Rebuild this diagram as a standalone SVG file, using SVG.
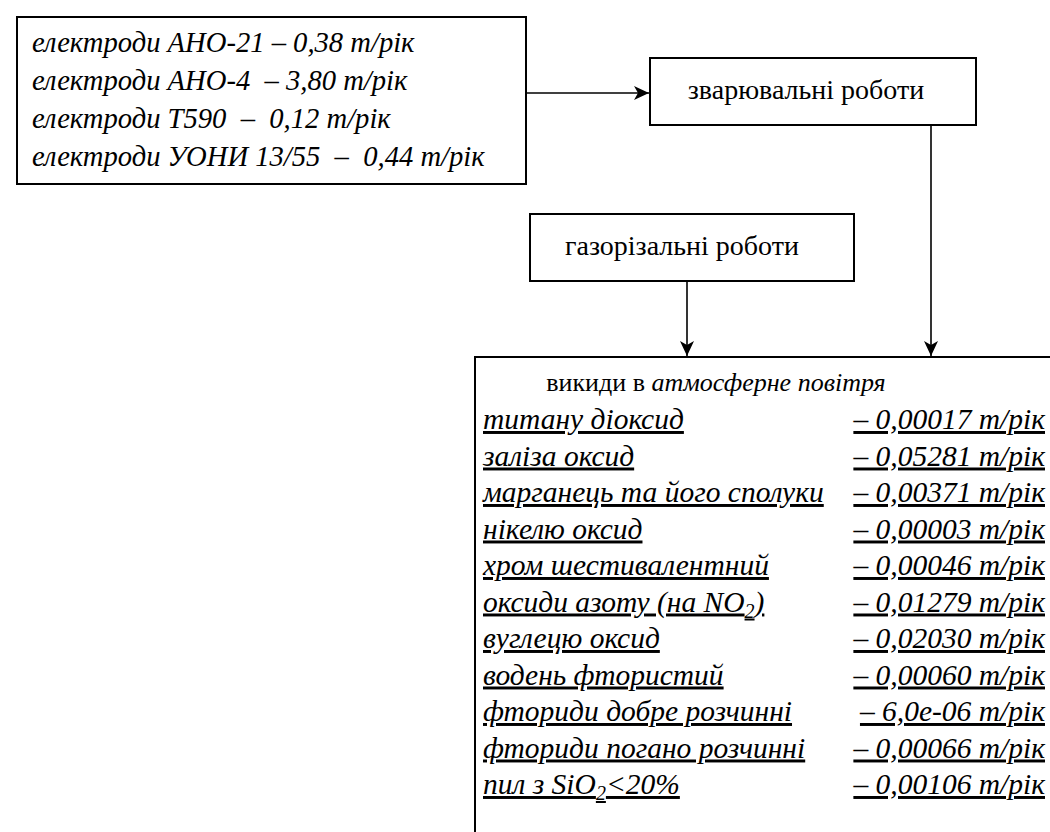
<svg xmlns="http://www.w3.org/2000/svg" width="1050" height="832" viewBox="0 0 1050 832">
<style>
.box{fill:#fff;stroke:#000;stroke-width:2}
.ln{fill:none;stroke:#000;stroke-width:1.6}
.t{font-family:"Liberation Serif","Times New Roman",serif;font-size:28px;fill:#000}
.in{font-size:28.6px}
.r{font-size:29.5px}
.ttl{font-size:26px}
.i{font-style:italic}
.u{text-decoration:underline}
.pre{white-space:pre}
.e{text-anchor:end}
</style>
<defs>
<marker id="arr" markerWidth="16" markerHeight="14" refX="15" refY="7" orient="auto" markerUnits="userSpaceOnUse">
<path d="M0,0 L15,7 L0,14 L4,7 z" fill="#000"/>
</marker>
</defs>
<rect width="1050" height="832" fill="#fff"/>
<g id="connectors">
<line class="ln" x1="527" y1="93" x2="649" y2="93" marker-end="url(#arr)"/>
<line class="ln" x1="931" y1="125" x2="931" y2="356" marker-end="url(#arr)"/>
<line class="ln" x1="687" y1="281" x2="687" y2="356" marker-end="url(#arr)"/>
</g>
<g id="inputs">
<rect class="box" x="17" y="17" width="509" height="167"/>
<text class="t in i pre" x="32" y="52">електроди АНО-21 – 0,38 т/рік</text>
<text class="t in i pre" x="32" y="90">електроди АНО-4  – 3,80 т/рік</text>
<text class="t in i pre" x="32" y="128">електроди Т590  –  0,12 т/рік</text>
<text class="t in i pre" x="32" y="166">електроди УОНИ 13/55  –  0,44 т/рік</text>
</g>
<g id="welding">
<rect class="box" x="650" y="58" width="326" height="67"/>
<text class="t" x="806" y="99" text-anchor="middle">зварювальні роботи</text>
</g>
<g id="gascutting">
<rect class="box" x="530" y="214" width="324" height="67"/>
<text class="t" x="682" y="255" text-anchor="middle">газорізальні роботи</text>
</g>
<g id="emissions">
<path d="M1050,357 H475 V832" fill="none" stroke="#000" stroke-width="2"/>
<text class="t ttl" x="716" y="391" text-anchor="middle">викиди в <tspan class="i">атмосферне повітря</tspan></text>
<g class="t r i u">
<text x="483" y="429">титану діоксид</text>
<text x="483" y="465.5">заліза оксид</text>
<text x="483" y="502">марганець та його сполуки</text>
<text x="483" y="538.5">нікелю оксид</text>
<text x="483" y="575">хром шестивалентний</text>
<text x="483" y="611.5">оксиди азоту (на NO<tspan font-size="20" dy="6">2</tspan><tspan dy="-6">)</tspan></text>
<text x="483" y="648">вуглецю оксид</text>
<text x="483" y="684.5">водень фтористий</text>
<text x="483" y="721">фториди добре розчинні</text>
<text x="483" y="757.5">фториди погано розчинні</text>
<text x="483" y="794">пил з SiO<tspan font-size="20" dy="6">2</tspan><tspan dy="-6">&lt;20%</tspan></text>
</g>
<g class="t r i u e">
<text x="1045" y="429">– 0,00017 т/рік</text>
<text x="1045" y="465.5">– 0,05281 т/рік</text>
<text x="1045" y="502">– 0,00371 т/рік</text>
<text x="1045" y="538.5">– 0,00003 т/рік</text>
<text x="1045" y="575">– 0,00046 т/рік</text>
<text x="1045" y="611.5">– 0,01279 т/рік</text>
<text x="1045" y="648">– 0,02030 т/рік</text>
<text x="1045" y="684.5">– 0,00060 т/рік</text>
<text x="1045" y="721">– 6,0е-06 т/рік</text>
<text x="1045" y="757.5">– 0,00066 т/рік</text>
<text x="1045" y="794">– 0,00106 т/рік</text>
</g>
</g>
</svg>
